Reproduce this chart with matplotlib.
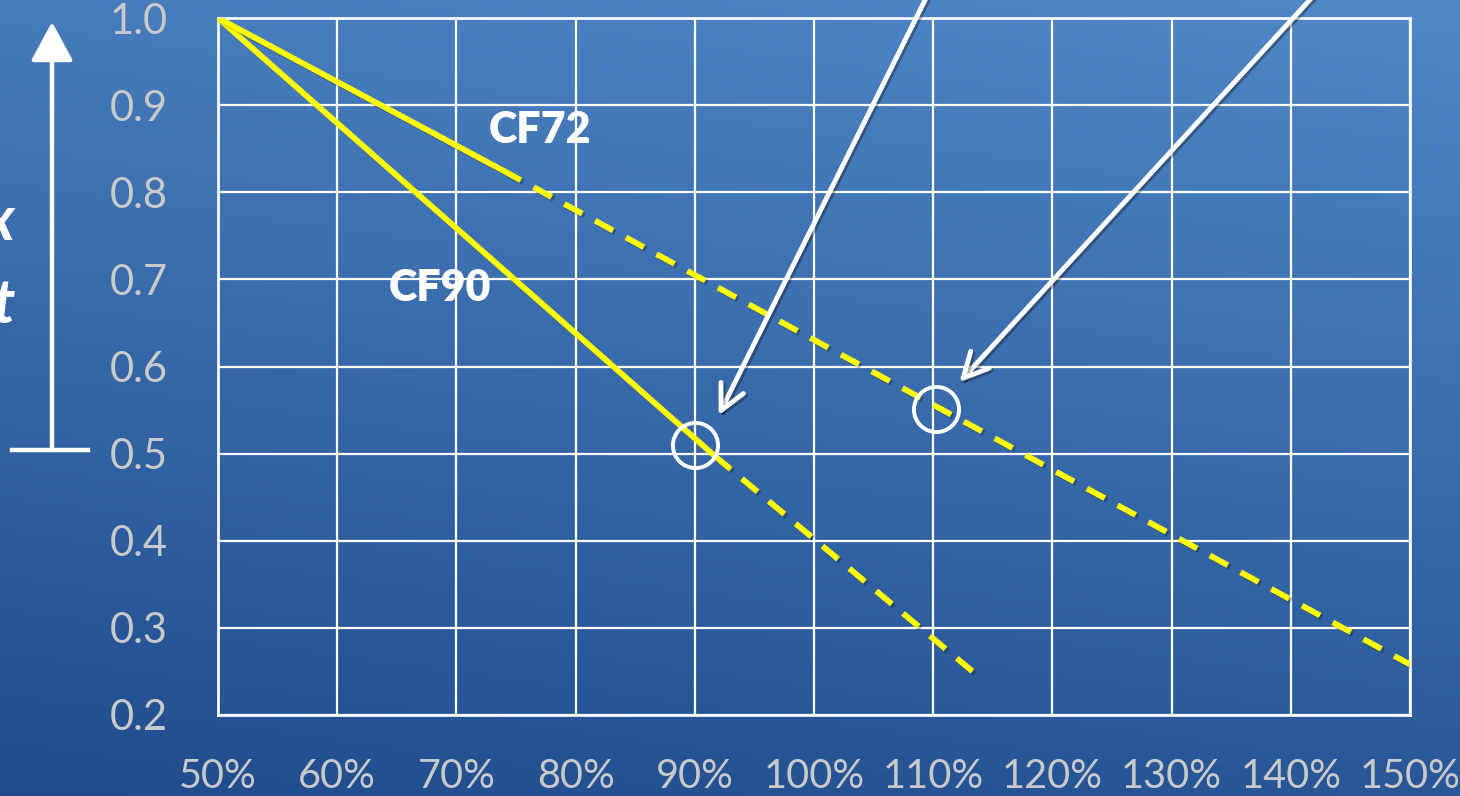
import numpy as np
import matplotlib
matplotlib.use("Agg")
import matplotlib.pyplot as plt
import matplotlib.patheffects as pe

# load fraction vs. flow, two curves (solid = measured range, dashed = extrapolated)
cf90_solid_x = [50, 91.7]
cf90_solid_y = [1.0, 0.497]
cf90_dash_x = [91.7, 113.3]
cf90_dash_y = [0.497, 0.25]

cf72_solid_x = [50, 73.9]
cf72_solid_y = [1.0, 0.825]
cf72_dash_x = [73.9, 150]
cf72_dash_y = [0.825, 0.258]

# operating points and the arrows pointing at them (start is above the plot)
circle_x = [90, 110.2]
circle_y = [0.51, 0.551]
arrow_tip_x = [92.0, 112.2]
arrow_tip_y = [0.544, 0.582]
arrow_start_x = [112.2, 146.9]
arrow_start_y = [1.10, 1.10]

x_ticks = list(range(50, 151, 10))
x_labels = [f"{v}%" for v in x_ticks]
y_ticks = [0.2, 0.3, 0.4, 0.5, 0.6, 0.7, 0.8, 0.9, 1.0]
y_labels = [f"{v:.1f}" for v in y_ticks]

W, H = 1460, 796
fig = plt.figure(figsize=(W / 100, H / 100), dpi=100)
plt.rcParams['font.family'] = ['Lato', 'DejaVu Sans']

# blue gradient backdrop, lighter towards the top right
bg = fig.add_axes([0, 0, 1, 1], zorder=-10)
gy, gx = np.mgrid[0:1:200j, 0:1:200j]
t = np.clip(0.8 * gy + 0.2 * gx, 0, 1)
top = np.array([80, 136, 200]) / 255
bottom = np.array([31, 76, 141]) / 255
img = bottom[None, None, :] + (top - bottom)[None, None, :] * t[..., None]
bg.imshow(img, origin="lower", extent=[0, 1, 0, 1], aspect="auto")
bg.axis("off")

ax = fig.add_axes([218 / W, 1 - 715 / H, (1410 - 218) / W, (715 - 18) / H])
ax.set_facecolor("none")
ax.set_xlim(50, 150)
ax.set_ylim(0.2, 1.0)
ax.set_xticks(x_ticks)
ax.set_xticklabels(x_labels)
ax.set_yticks(y_ticks)
ax.set_yticklabels(y_labels)
ax.tick_params(length=0, colors="#c9c9c9", labelsize=30)
ax.tick_params(axis="x", labelsize=28.5, pad=31)
ax.tick_params(axis="y", pad=36)
ax.grid(True, color="white", lw=1.6)
ax.set_axisbelow(True)
for s in ax.spines.values():
    s.set_color("white")
    s.set_linewidth(1.9)

shadow = [pe.SimpleLineShadow(offset=(1.5, -1.5), alpha=0.25), pe.Normal()]
yellow = "#ffff00"
lw = 4.2
dash = (3.5, 2.5)
ax.plot(cf90_solid_x, cf90_solid_y, color=yellow, lw=lw, path_effects=shadow,
        solid_capstyle="butt", zorder=3)
ax.plot(cf90_dash_x, cf90_dash_y, color=yellow, lw=lw, dashes=dash,
        path_effects=shadow, dash_capstyle="butt", zorder=3)
ax.plot(cf72_solid_x, cf72_solid_y, color=yellow, lw=lw, path_effects=shadow,
        solid_capstyle="butt", zorder=3)
ax.plot(cf72_dash_x, cf72_dash_y, color=yellow, lw=lw, dashes=dash,
        path_effects=shadow, dash_capstyle="butt", zorder=3)

ax.text(77.0, 0.871, "CF72", color="white", fontsize=31, fontweight="heavy",
        ha="center", va="center", zorder=4)
ax.text(68.6, 0.69, "CF90", color="white", fontsize=31, fontweight="heavy",
        ha="center", va="center", zorder=4)

ax.plot(circle_x, circle_y, "o", ms=32.5, mfc="none", mec="white", mew=2.8, zorder=5)

for sx, sy, tx, ty in zip(arrow_start_x, arrow_start_y, arrow_tip_x, arrow_tip_y):
    ax.annotate("", xy=(tx, ty), xytext=(sx, sy), annotation_clip=False,
                arrowprops=dict(arrowstyle="->,head_length=0.9,head_width=0.45",
                                color="white", lw=3.5, shrinkA=0, shrinkB=0,
                                mutation_scale=20,
                                path_effects=[pe.SimpleLineShadow(offset=(1.5, -1.5), alpha=0.3), pe.Normal()]),
                zorder=6)

# cut-off vertical axis title and the up arrow at the left edge
fig.text(14 / W, 1 - 222 / H, "x", color="white", fontsize=44, fontweight="bold",
         fontstyle="italic", ha="right", va="center")
fig.text(14 / W, 1 - 305 / H, "t", color="white", fontsize=44, fontweight="bold",
         fontstyle="italic", ha="right", va="center")
fig.add_artist(plt.Line2D([12 / W, 88 / W], [1 - 450 / H, 1 - 450 / H],
                          color="white", lw=3.2, transform=fig.transFigure))
fig.patches.append(matplotlib.patches.FancyArrowPatch(
    (52 / W, 1 - 450 / H), (52 / W, 1 - 22 / H), transform=fig.transFigure,
    arrowstyle="-|>,head_length=1.2,head_width=0.65", mutation_scale=20,
    color="white", lw=3.2, shrinkA=0, shrinkB=0))

fig.savefig("out.png", dpi=100)
